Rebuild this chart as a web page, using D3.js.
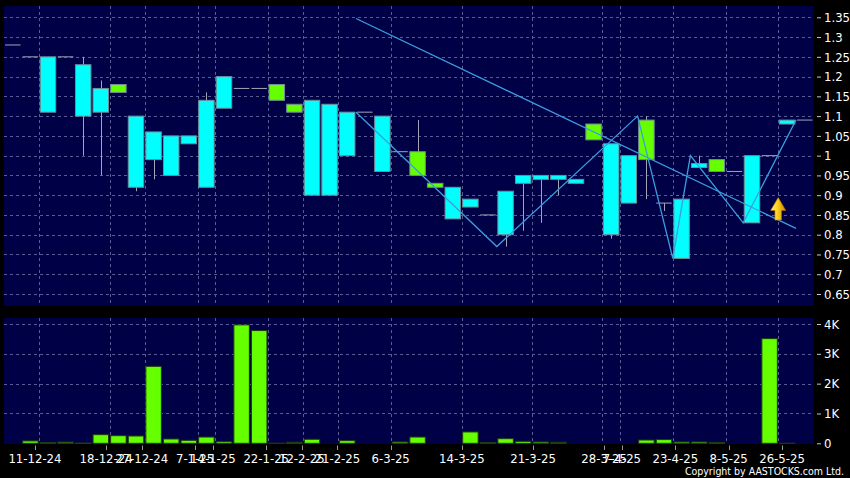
<!DOCTYPE html>
<html><head><meta charset="utf-8">
<script src="https://cdnjs.cloudflare.com/ajax/libs/d3/7.8.5/d3.min.js"></script>
<style>html,body{margin:0;padding:0;background:#000;overflow:hidden}</style>
</head><body><svg id="c" width="850" height="478"></svg>
<script>
// ---- data ----
const opens  = [1.28,1.25,1.25,1.25,1.23,1.17,1.16,1.10,1.06,1.05,1.05,1.14,1.20,1.17,1.17,1.14,1.11,1.14,1.13,1.11,1.11,1.10,1.01,0.95,0.92,0.92,0.89,0.85,0.91,0.95,0.95,0.95,0.94,1.04,1.03,1.00,0.99,0.88,0.89,0.98,0.96,0.96,1.00,1.00,1.09,1.09];
const highs  = [1.28,1.25,1.25,1.25,1.25,1.19,1.18,1.10,1.06,1.05,1.05,1.16,1.20,1.17,1.17,1.18,1.13,1.14,1.13,1.11,1.11,1.10,1.01,1.09,0.93,0.92,0.89,0.85,0.91,0.95,0.95,0.95,0.94,1.08,1.03,1.00,1.10,0.88,0.89,1.00,0.99,0.96,1.00,1.00,1.09,1.09];
const lows   = [1.28,1.25,1.11,1.25,1.00,0.95,1.16,0.91,0.94,0.95,1.03,0.92,1.12,1.17,1.17,1.14,1.11,0.90,0.90,1.00,1.11,0.96,1.01,0.95,0.92,0.84,0.87,0.85,0.77,0.81,0.83,0.90,0.93,1.04,0.79,0.88,0.89,0.86,0.74,0.97,0.96,0.96,0.83,1.00,1.08,1.09];
const closes = [1.28,1.25,1.11,1.25,1.10,1.11,1.18,0.92,0.99,0.95,1.03,0.92,1.12,1.17,1.17,1.18,1.13,0.90,0.90,1.00,1.11,0.96,1.01,1.01,0.93,0.84,0.87,0.85,0.80,0.93,0.94,0.94,0.93,1.08,0.80,0.88,1.09,0.88,0.74,0.97,0.99,0.96,0.83,1.00,1.08,1.09];
const volumes = [0,80,20,40,10,290,255,245,2580,145,100,210,55,3970,3780,5,35,135,0,90,0,0,45,210,0,0,380,20,155,65,45,35,0,0,0,0,110,125,45,45,30,0,0,3510,5,0];

const tickIndex  = [2,6,8,11,12,15,17,19,22,26,30,34,35,38,41,44];
const tickLabels = ["11-12-24","18-12-24","27-12-24","7-1-25","14-1-25","22-1-25","12-2-25","21-2-25","6-3-25","14-3-25","21-3-25","28-3-25","7-4-25","23-4-25","8-5-25","26-5-25"];
const priceTicks = [0.65,0.7,0.75,0.8,0.85,0.9,0.95,1,1.05,1.1,1.15,1.2,1.25,1.3,1.35];
const volumeTicks = [0,1000,2000,3000,4000];
const volumeTickLabels = ["0","1K","2K","3K","4K"];

const zigIndex = [20,28,36,38,39,42,45];
const zigPrice = [1.11,0.77,1.10,0.74,1.00,0.83,1.09];
const trendIndex = [20,45];
const trendPrice = [1.347,0.816];
const signalIndex = [44];
const signalLow = [0.837];
const signalHigh = [0.894];

// ---- layout ----
const W=850,H=478;
const L=4,R=813.6;
const pTop=6,pBot=306,vTop=318,vBot=444;
const FONT='"DejaVu Sans Condensed","DejaVu Sans",sans-serif';
const n=opens.length;

const svg=d3.select("#c");
svg.append("rect").attr("width",W).attr("height",H).attr("fill","#000");

const x=d3.scaleBand().domain(d3.range(n)).range([L,R]).padding(0);
const step=x.step();
const xt=d3.scaleLinear().domain([0,n]).range([-0.6,817.6]);
const y=d3.scaleLinear().domain([0.65,1.35]).range([294,17.3]);
const yv=d3.scaleLinear().domain([0,4000]).range([443.3,324]);

const BG="#000046", GRID="#5a5a96";

// panels
svg.append("rect").attr("x",L).attr("y",pTop).attr("width",R-L).attr("height",pBot-pTop).attr("fill",BG);
svg.append("rect").attr("x",L).attr("y",vTop).attr("width",R-L).attr("height",vBot-vTop).attr("fill",BG);

// gridlines
const g=svg.append("g").attr("stroke",GRID).attr("stroke-width",1).attr("stroke-dasharray","3,3");
g.selectAll("line.hp").data(priceTicks).join("line")
  .attr("x1",L).attr("x2",R).attr("y1",d=>Math.round(y(d))+0.5).attr("y2",d=>Math.round(y(d))+0.5);
g.selectAll("line.hv").data(volumeTicks.slice(1)).join("line")
  .attr("x1",L).attr("x2",R).attr("y1",d=>Math.round(yv(d))+0.5).attr("y2",d=>Math.round(yv(d))+0.5);
tickIndex.forEach(i=>{
  const xx=Math.round(x(i))+0.5;
  g.append("line").attr("x1",xx).attr("x2",xx).attr("y1",pTop).attr("y2",pBot);
  g.append("line").attr("x1",xx).attr("x2",xx).attr("y1",vTop).attr("y2",vBot);
});

// candles
const bodyOff=step*0.06, bodyW=step*0.88;
const cg=svg.append("g");
const idx=d3.range(n);
// wicks
cg.selectAll("line.wick").data(idx.filter(i=>highs[i]!==lows[i])).join("line")
  .attr("x1",i=>Math.round(x(i)+step/2)+0.5).attr("x2",i=>Math.round(x(i)+step/2)+0.5)
  .attr("y1",i=>y(highs[i])).attr("y2",i=>y(lows[i]))
  .attr("stroke","#a4a4b8").attr("stroke-width",1);
// doji lines
cg.selectAll("line.doji").data(idx.filter(i=>opens[i]===closes[i])).join("line")
  .attr("x1",i=>x(i)+bodyOff).attr("x2",i=>x(i)+bodyOff+bodyW)
  .attr("y1",i=>y(opens[i])).attr("y2",i=>y(opens[i]))
  .attr("stroke","#a4a4b8").attr("stroke-width",1);
// bodies
cg.selectAll("rect.body").data(idx.filter(i=>opens[i]!==closes[i])).join("rect")
  .attr("x",i=>x(i)+bodyOff).attr("width",bodyW)
  .attr("y",i=>y(Math.max(opens[i],closes[i])))
  .attr("height",i=>Math.abs(y(opens[i])-y(closes[i])))
  .attr("fill",i=>closes[i]>opens[i]?"#66ff00":"#00ffff")
  .attr("stroke","#6f8c98").attr("stroke-width",1);

// trend line and zigzag
const line=d3.line().x(d=>x(d[0])).y(d=>y(d[1]));
svg.append("path").datum(trendIndex.map((d,i)=>[d,trendPrice[i]])).attr("d",line)
  .attr("fill","none").attr("stroke","#3a9ee0").attr("stroke-width",1.3);
svg.append("path").datum(zigIndex.map((d,i)=>[d,zigPrice[i]])).attr("d",line)
  .attr("fill","none").attr("stroke","#3a9ee0").attr("stroke-width",1.3);

// signal arrow
const defs=svg.append("defs");
const gr=defs.append("linearGradient").attr("id","ag").attr("x1","0").attr("x2","1").attr("y1","0").attr("y2","0");
gr.append("stop").attr("offset","0%").attr("stop-color","#fff27a");
gr.append("stop").attr("offset","45%").attr("stop-color","#ffd21a");
gr.append("stop").attr("offset","100%").attr("stop-color","#c98400");
signalIndex.forEach((si,k)=>{
  const cx=x(si)-0.2, top=y(signalHigh[k]), bot=y(signalLow[k]);
  const hh=13, hw=7.6, sw=3.3;
  const pts=[[cx,top],[cx+hw,top+hh],[cx+sw,top+hh],[cx+sw,bot],[cx-sw,bot],[cx-sw,top+hh],[cx-hw,top+hh]];
  svg.append("polygon").attr("points",pts.map(p=>p.join(",")).join(" "))
    .attr("fill","url(#ag)").attr("stroke","#b07000").attr("stroke-width",0.6);
});

// volume bars
svg.append("g").selectAll("rect").data(idx).join("rect")
  .attr("x",i=>x(i)+bodyOff).attr("width",bodyW)
  .attr("y",i=>yv(volumes[i])).attr("height",i=>Math.max(0,yv(0)-yv(volumes[i])))
  .attr("fill","#66ff00").attr("stroke","#1d3a10").attr("stroke-width",1);

// right axes
function styleAxis(sel){
  sel.select(".domain").remove();
  sel.selectAll(".tick line").attr("stroke","#c8c8c8");
  sel.selectAll(".tick text").attr("fill","#fff").attr("font-family",FONT).attr("font-size",13).attr("font-stretch","condensed");
}
svg.append("g").attr("transform","translate(817,0)")
  .call(d3.axisRight(y).tickValues(priceTicks).tickFormat(d=>String(+d.toFixed(2))).tickSize(4).tickPadding(3))
  .call(styleAxis);
svg.append("g").attr("transform","translate(817,0)")
  .call(d3.axisRight(yv).tickValues(volumeTicks).tickFormat((d,i)=>volumeTickLabels[i]).tickSize(4).tickPadding(3))
  .call(styleAxis);

// bottom axis
const xa=svg.append("g");
xa.selectAll("line").data(tickIndex).join("line")
  .attr("x1",i=>Math.round(xt(i))+0.5).attr("x2",i=>Math.round(xt(i))+0.5)
  .attr("y1",445.5).attr("y2",450).attr("stroke","#9a9a9a");
xa.selectAll("text").data(tickIndex).join("text")
  .attr("x",i=>xt(i)).attr("y",462.5).attr("text-anchor","middle")
  .attr("fill","#fff").attr("font-family",FONT).attr("font-size",13).attr("font-stretch","condensed")
  .text((d,k)=>tickLabels[k]);

svg.append("text").attr("x",844).attr("y",474.5).attr("text-anchor","end")
  .attr("fill","#fff").attr("font-family",FONT).attr("font-size",10.5).attr("font-stretch","condensed")
  .text("Copyright by AASTOCKS.com Ltd.");
</script></body></html>
